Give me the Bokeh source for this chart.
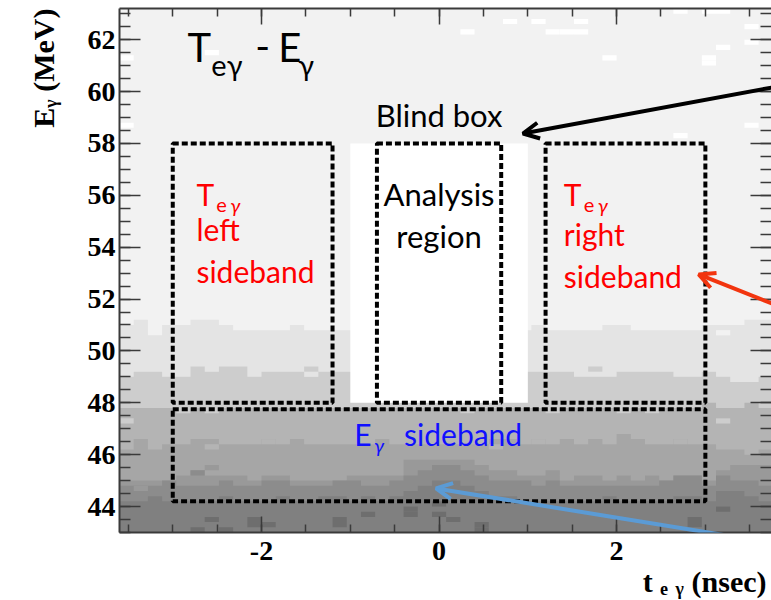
import numpy as np
from bokeh.plotting import figure
from bokeh.models import Label, Arrow, OpenHead, LinearAxis, FixedTicker, ColumnDataSource, Title
from bokeh.embed import file_html
from bokeh.resources import INLINE

# ---------------- data ----------------
t_first_edge = -3.6          # nsec
t_bin_width = 0.16
n_t_bins = 46
e_first_edge = 43.0          # MeV
e_bin_width = 0.2
n_e_bins = 101

# grey level of each histogram content class (0 = empty)
level_colors = ["#ffffff", "#f2f2f2", "#e4e4e4", "#cdcdcd", "#b4b4b4",
                "#a6a6a6", "#999999", "#8c8c8c", "#808080", "#6e6e6e"]

# upper E edge (MeV) of each content class, one value per t bin
l2_top = [51.0, 51.2, 50.6, 51.0, 51.0, 51.2, 51.2, 51.0, 50.8, 50.8, 50.8, 50.8, 51.0, 50.8, 50.8, 50.8,
          50.8, 50.8, 50.8, 50.8, 50.8, 50.8, 50.8, 50.8, 50.8, 50.8, 50.8, 50.8, 50.8, 51.0, 50.8, 50.8,
          50.8, 50.8, 51.0, 51.0, 50.8, 50.8, 50.8, 50.8, 50.8, 51.0, 51.0, 51.0, 51.2, 51.2]
l3_top = [49.0, 49.2, 49.2, 49.0, 49.0, 49.4, 49.2, 49.4, 49.4, 49.0, 49.2, 49.2, 49.2, 49.4, 49.2, 49.2,
          49.2, 49.2, 49.2, 49.2, 49.2, 49.2, 49.2, 49.2, 49.2, 49.2, 49.2, 49.2, 49.2, 49.2, 49.2, 49.2,
          49.0, 49.0, 49.0, 49.2, 49.2, 49.2, 49.2, 49.0, 49.0, 49.2, 49.0, 48.8, 48.8, 49.0]
l4_top = [47.8, 47.8, 47.8, 47.8, 47.8, 47.8, 47.8, 47.8, 47.8, 47.8, 47.8, 47.8, 47.8, 47.8, 47.8, 47.8,
          47.8, 47.8, 47.8, 47.8, 47.8, 47.8, 47.8, 47.8, 47.8, 47.8, 47.8, 47.8, 47.8, 47.8, 47.8, 47.8,
          47.8, 47.8, 47.8, 47.8, 47.8, 47.8, 47.8, 47.8, 47.8, 48.0, 47.8, 47.8, 48.0, 47.8]
l5_top = [46.2, 46.6, 46.2, 46.4, 46.4, 46.6, 46.6, 46.4, 46.4, 46.4, 46.6, 46.4, 46.6, 46.4, 46.4, 46.4,
          46.4, 46.4, 46.6, 46.4, 46.4, 46.4, 46.4, 46.4, 46.4, 46.4, 46.6, 46.6, 46.4, 46.6, 46.4, 46.6,
          46.4, 46.6, 46.4, 46.8, 46.6, 46.4, 46.4, 46.6, 46.4, 46.4, 46.2, 46.2, 46.0, 46.2]
l6_top = [45.0, 45.0, 45.0, 45.0, 45.2, 45.4, 45.2, 45.2, 45.2, 45.0, 45.2, 45.2, 45.0, 45.0, 45.0, 45.0,
          45.2, 45.2, 45.2, 45.2, 45.8, 45.8, 45.8, 45.8, 45.8, 45.6, 45.4, 45.4, 45.2, 45.2, 45.4, 45.0,
          45.2, 45.2, 45.0, 45.2, 45.0, 45.2, 45.0, 45.2, 45.2, 45.0, 45.4, 45.6, 45.6, 45.6]
l7_top = [44.8, 44.8, 44.8, 45.0, 44.8, 44.8, 44.8, 45.0, 44.8, 44.8, 45.0, 45.0, 44.8, 44.8, 44.8, 45.0,
          45.0, 44.8, 44.8, 45.0, 45.2, 45.4, 45.6, 45.6, 45.4, 45.2, 45.0, 45.0, 45.0, 44.8, 45.0, 44.8,
          44.8, 44.8, 44.8, 44.8, 44.8, 44.8, 45.0, 45.2, 45.2, 44.8, 45.2, 45.0, 45.0, 44.8]
l8_top = [44.2, 44.2, 44.4, 44.2, 44.2, 44.2, 44.2, 44.4, 44.2, 44.2, 44.2, 44.4, 44.2, 44.2, 44.4, 44.4,
          44.2, 44.4, 44.2, 44.4, 44.6, 44.8, 45.0, 45.0, 44.8, 44.6, 44.4, 44.4, 44.2, 44.2, 44.2, 44.2,
          44.2, 44.2, 44.4, 44.2, 44.2, 44.2, 44.2, 44.4, 44.4, 44.2, 44.6, 44.6, 44.4, 44.2]

# single bins that differ from their surroundings: t-bin index, lower E edge, class
speck_col = [0, 0, 6, 24, 27, 29, 30, 31, 32, 32, 34, 39, 39, 41, 41, 41, 42, 42, 44, 44, 44,
             0, 4, 6, 24, 30, 35, 37, 42, 13, 33, 42, 6, 10, 26, 29, 39, 1, 6, 5,
             6, 9, 9, 10, 5, 7, 15, 15, 17, 20, 20, 22, 22, 23, 25, 25, 40, 40, 42]
speck_e = [61.2, 58.6, 61.4, 62.2, 62.6, 62.6, 62.2, 62.2, 62.2, 62.6, 61.2, 63.0, 58.2, 61.0, 61.2, 63.0, 63.0, 61.6, 62.4, 61.8, 58.6,
           47.2, 47.6, 47.6, 47.6, 47.6, 47.6, 47.6, 47.2, 49.0, 49.2, 50.6, 46.2, 46.4, 46.2, 46.4, 46.4, 44.6, 45.4, 45.2,
           43.4, 43.4, 43.2, 43.2, 43.0, 43.0, 43.2, 43.4, 43.6, 43.6, 43.8, 44.0, 43.6, 43.4, 43.2, 43.0, 43.2, 43.4, 43.8]
speck_level = [0, 0, 0, 0, 0, 0, 0, 0, 0, 0, 0, 0, 0, 0, 0, 0, 0, 0, 0, 0, 0,
               3, 3, 3, 3, 3, 3, 3, 3, 2, 3, 1, 4, 4, 4, 4, 4, 6, 6, 7,
               9, 9, 9, 9, 9, 9, 9, 9, 9, 9, 9, 9, 9, 9, 9, 9, 9, 9, 9]

# blind box (analysis hidden) and the dotted regions
blind_t = (-1.0, 1.0)
blind_e = (48.0, 58.0)
box_t_lo = [-3.0, -0.7, 1.2, -3.0]
box_t_hi = [-1.2, 0.7, 3.0, 3.0]
box_e_lo = [48.0, 48.0, 48.0, 44.2]
box_e_hi = [58.0, 58.0, 58.0, 47.75]

x_ticks = [-2, 0, 2]
x_tick_labels = ["-2", "0", "2"]
y_ticks = [44, 46, 48, 50, 52, 54, 56, 58, 60, 62]
y_tick_labels = ["44", "46", "48", "50", "52", "54", "56", "58", "60", "62"]
x_title = "t \u2091 \u1d67 (nsec)"
y_title = "E\u1d67 (MeV)"

x_range = (-3.6, 3.745)
y_range = (43.0, 63.2)

# ---------------- histogram shapes ----------------
t_edges = [t_first_edge + i * t_bin_width for i in range(n_t_bins + 1)]
e_top_edge = e_first_edge + n_e_bins * e_bin_width

layer_xs, layer_ys, layer_col = [], [], []
# content class 1 fills the whole histogram area
layer_xs.append([t_edges[0], t_edges[0], t_edges[-1], t_edges[-1]])
layer_ys.append([e_first_edge, e_top_edge, e_top_edge, e_first_edge])
layer_col.append(level_colors[1])
for k, tops in enumerate([l2_top, l3_top, l4_top, l5_top, l6_top, l7_top, l8_top]):
    xs = [t_edges[0]]
    ys = [e_first_edge]
    for c in range(n_t_bins):
        xs += [t_edges[c], t_edges[c + 1]]
        ys += [tops[c], tops[c]]
    xs.append(t_edges[-1])
    ys.append(e_first_edge)
    layer_xs.append(xs)
    layer_ys.append(ys)
    layer_col.append(level_colors[k + 2])
layers = ColumnDataSource(dict(xs=layer_xs, ys=layer_ys, color=layer_col))

specks = ColumnDataSource(dict(
    left=[t_edges[c] for c in speck_col],
    right=[t_edges[c + 1] for c in speck_col],
    bottom=speck_e,
    top=[e + e_bin_width for e in speck_e],
    color=[level_colors[v] for v in speck_level]))

# ---------------- figure ----------------
p = figure(width=771, height=600, x_range=x_range, y_range=y_range,
           output_backend="svg", toolbar_location=None,
           min_border_left=118, min_border_right=0, min_border_top=8, min_border_bottom=68,
           background_fill_color="white", border_fill_color="white")
p.outline_line_color = None
p.xgrid.grid_line_color = None
p.ygrid.grid_line_color = None

p.patches(xs="xs", ys="ys", source=layers, fill_color="color", line_color=None)
p.quad(left="left", right="right", bottom="bottom", top="top", source=specks,
       fill_color="color", line_color=None)
p.quad(left=[blind_t[0]], right=[blind_t[1]], bottom=[blind_e[0]], top=[blind_e[1]],
       fill_color="white", line_color=None)
p.quad(left=box_t_lo, right=box_t_hi, bottom=box_e_lo, top=box_e_hi,
       fill_color=None, line_color="black", line_width=4, line_dash="6 3")

axis_col = "#3a3a3a"
x_minor = list(np.arange(-3.5, 3.75, 0.5))
y_minor = list(np.arange(43.0, 63.3, 0.5))
serif = "Liberation Serif"

def style_axis(ax, tin, mtin, show_labels):
    ax.axis_line_color = axis_col
    ax.axis_line_width = 2
    ax.major_tick_line_color = axis_col
    ax.minor_tick_line_color = axis_col
    ax.major_tick_line_width = 1.5
    ax.minor_tick_line_width = 1.5
    ax.major_tick_in = tin
    ax.major_tick_out = 0
    ax.minor_tick_in = mtin
    ax.minor_tick_out = 0
    if not show_labels:
        ax.major_label_overrides = {v: "" for v in ax.ticker.ticks}
        ax.major_label_text_font_size = "1px"
        ax.major_label_standoff = 0

xa = p.xaxis[0]
xa.ticker = FixedTicker(ticks=x_ticks, minor_ticks=x_minor)
xa.major_label_overrides = {v: s for v, s in zip(x_ticks, x_tick_labels)}
style_axis(xa, 16, 8, True)
xa.major_label_text_font = serif
xa.major_label_text_font_style = "bold"
xa.major_label_text_font_size = "28px"
xa.major_label_text_color = "black"
xa.major_label_standoff = 9

ya = p.yaxis[0]
ya.ticker = FixedTicker(ticks=y_ticks, minor_ticks=y_minor)
ya.major_label_overrides = {v: s for v, s in zip(y_ticks, y_tick_labels)}
style_axis(ya, 21, 11, True)
ya.major_label_text_font = serif
ya.major_label_text_font_style = "bold"
ya.major_label_text_font_size = "28px"
ya.major_label_text_color = "black"
ya.major_label_standoff = 4

top_ax = LinearAxis(ticker=FixedTicker(ticks=x_ticks, minor_ticks=x_minor))
style_axis(top_ax, 16, 8, False)
p.add_layout(top_ax, "above")
right_ax = LinearAxis(ticker=FixedTicker(ticks=y_ticks, minor_ticks=y_minor))
style_axis(right_ax, 21, 11, False)
right_ax.axis_line_color = None
p.add_layout(right_ax, "right")

# axis titles at the far end of each axis, as ROOT draws them
def axis_title(text, standoff, offset):
    t = Title(text=text, align="right", text_font=serif, text_font_style="bold",
              text_font_size="30px", text_color="black", offset=offset)
    try:
        t.standoff = standoff
    except Exception:
        pass
    return t

p.add_layout(axis_title(y_title, 49, 0), "left")
p.add_layout(axis_title(x_title, 0, 5), "below")

# ---------------- texts ----------------
def px2t(x):
    return x_range[0] + (x - 118) / 88.9

def px2e(y):
    return y_range[1] - (y - 8) / 25.94

def lab(x_px, base_px, text, size, font="Lato", color="black", style="normal", align="left"):
    p.add_layout(Label(x=px2t(x_px), y=px2e(base_px - 0.4 * size), text=text,
                       text_font=font, text_font_size=f"{size}px",
                       text_font_style=style, text_color=color, text_align=align,
                       text_baseline="middle"))

# title
lab(186, 62, "T", 40)
lab(210, 76, "e\u03b3", 29)
lab(254, 62, "-", 40)
lab(277, 62, "E", 40)
lab(297, 76, "\u03b3", 29)

lab(438, 127, "Blind box", 31, align="center")
lab(438, 206, "Analysis", 31, align="center")
lab(438, 248, "region", 31, align="center")

red = "#ff0000"
lab(195, 205, "T", 30, color=red)
lab(215, 212, "e", 20, color=red)
lab(229, 212, "\u03b3", 20, color=red, style="italic")
lab(195, 240, "left", 30, color=red)
lab(195, 282, "sideband", 30, color=red)

lab(563, 205, "T", 30, color=red)
lab(583, 212, "e", 20, color=red)
lab(597, 212, "\u03b3", 20, color=red, style="italic")
lab(563, 245, "right", 30, color=red)
lab(563, 287, "sideband", 30, color=red)

blue = "#1010ff"
lab(353, 445, "E", 30, color=blue)
lab(373, 452, "\u03b3", 20, color=blue, style="italic")
lab(403, 445, "sideband", 30, color=blue)

# ---------------- arrows ----------------
def arrow(x0, y0, x1, y1, col):
    p.add_layout(Arrow(x_start=x0, y_start=y0, x_end=x1, y_end=y1,
                       line_color=col, line_width=4,
                       end=OpenHead(size=16, line_width=4, line_color=col)))

arrow(3.9, 60.25, 0.945, 58.38, "black")
arrow(3.9, 51.62, 2.925, 52.95, "#f2350f")
arrow(3.9, 42.52, -0.034, 44.70, "#5b9bd5")

open("out.html", "w").write(file_html(p, INLINE))
